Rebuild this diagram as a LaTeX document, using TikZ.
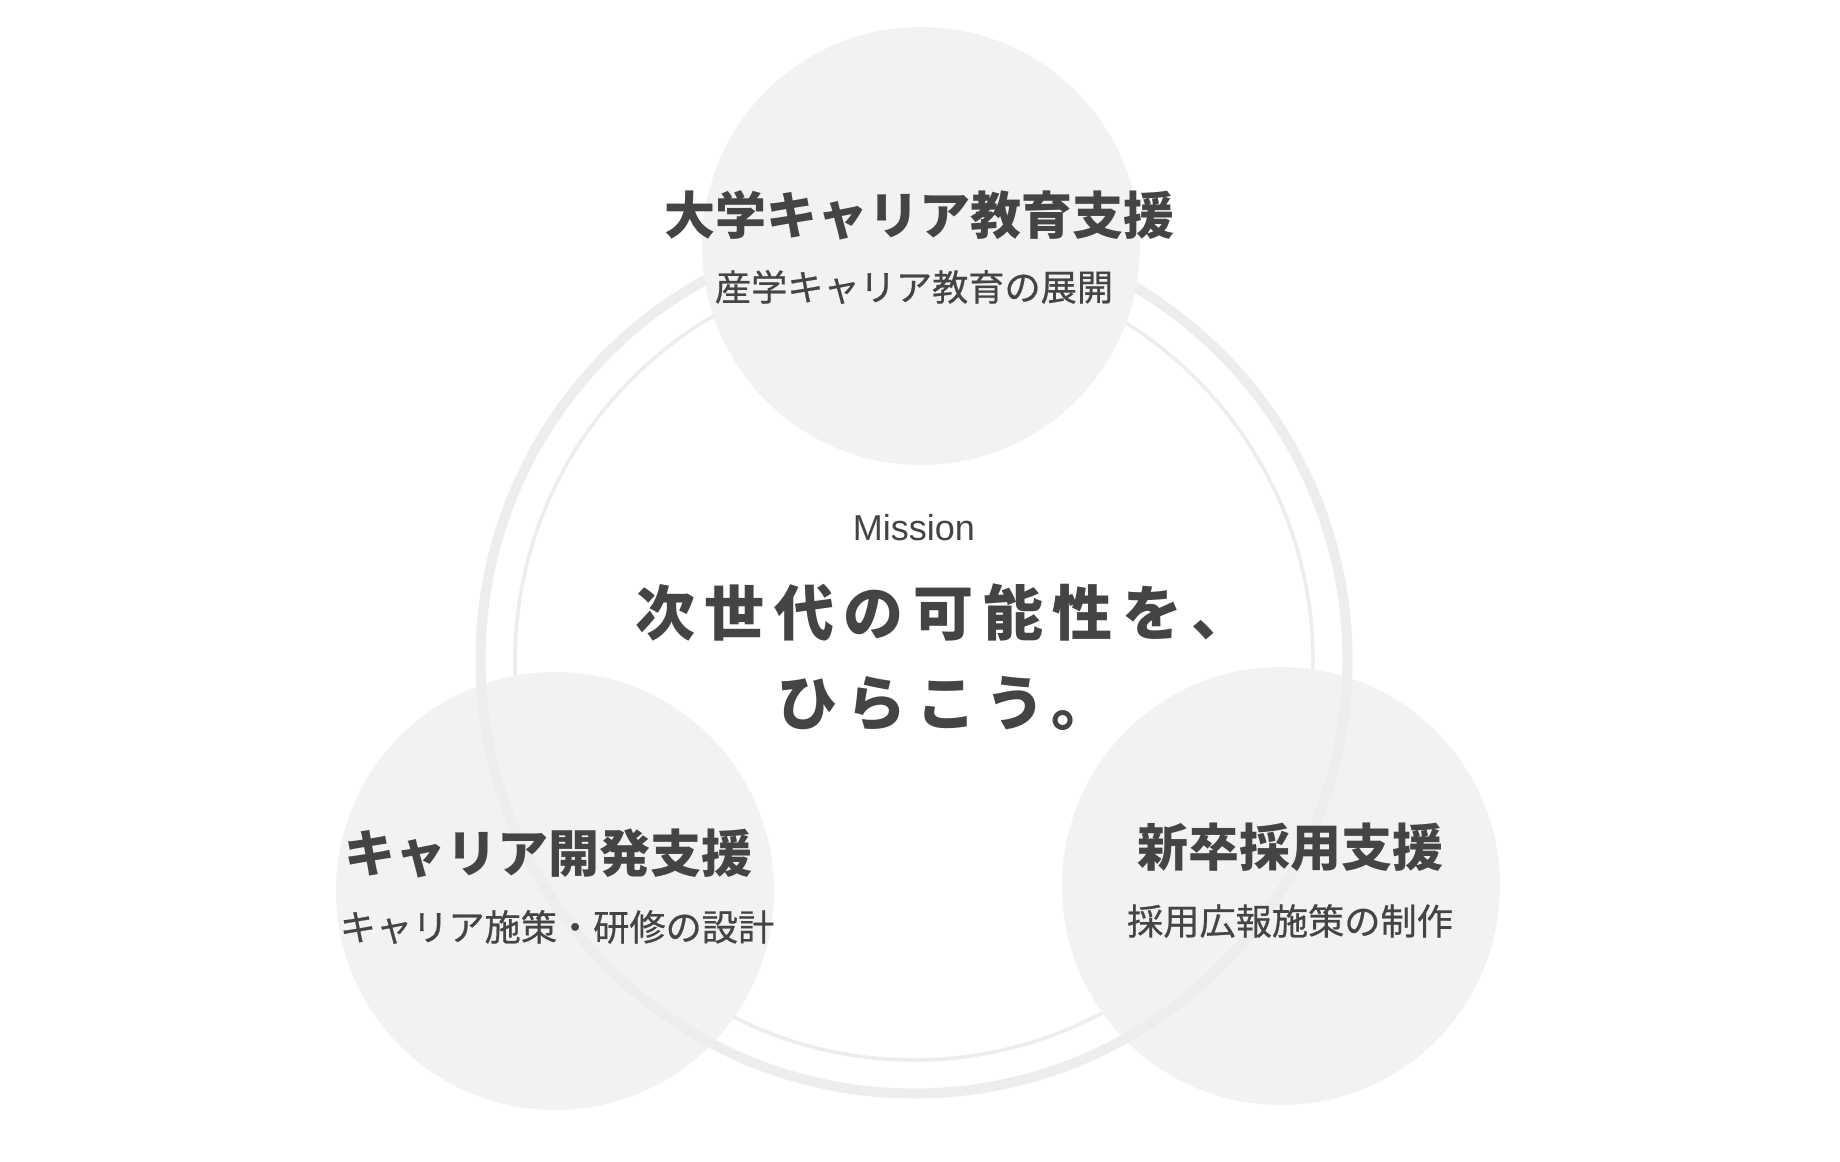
\documentclass[tikz,border=0pt]{standalone}
\usepackage{fontspec}
\setmainfont{Liberation Sans}
\newfontfamily\jp{Noto Sans CJK JP}
\newfontfamily\jpmed{Noto Sans CJK JP}[FakeBold=0.6]
\newfontfamily\jpwide{Noto Sans CJK JP}[LetterSpace=16]
\definecolor{bubblefill}{HTML}{F2F2F2}
\definecolor{ringcol}{HTML}{EDEDED}
\definecolor{inkcol}{HTML}{444444}
\tikzset{
  bubble/.style={circle, fill=bubblefill, minimum size=438pt, inner sep=0pt},
  titletext/.style={text=inkcol, inner sep=0pt, font=\jp\bfseries\fontsize{51}{58}\selectfont},
  subtext/.style={text=inkcol, inner sep=0pt, font=\jpmed\fontsize{36.2}{42}\selectfont},
  missiontext/.style={text=inkcol, inner sep=0pt, anchor=west, font=\jpwide\bfseries\fontsize{60}{70}\selectfont},
  labeltext/.style={text=inkcol, inner sep=0pt, font=\fontsize{36}{40}\selectfont}
}
\begin{document}
\begin{tikzpicture}[x=1pt,y=-1pt]
\path[use as bounding box, fill=white] (0,0) rectangle (1840,1162);
% inner thin ring (behind circles)
\draw[ringcol, line width=3.5pt] (914,661) circle (399);
% bottom circles
\node[bubble] (bl) at (555,891) {};
\node[bubble] (br) at (1281,886) {};
% outer ring
\draw[ringcol, line width=10pt] (914,660) circle (433.5);
% top circle
\node[bubble] (top) at (921,246) {};
% texts
\node[titletext] (toptitle) at (919,215) {大学キャリア教育支援};
\node[subtext] (topsub) at (914,287) {産学キャリア教育の展開};
\node[titletext] (bltitle) at (548,854) {キャリア開発支援};
\node[subtext] (blsub) at (557,927) {キャリア施策・研修の設計};
\node[titletext] (brtitle) at (1290,847) {新卒採用支援};
\node[subtext] (brsub) at (1290,921) {採用広報施策の制作};
\node[labeltext] (mission) at (914,528) {Mission};
\node[missiontext] (line1) at (635,613) {次世代の可能性を、};
\node[missiontext] (line2) at (777,704) {ひらこう。};
\end{tikzpicture}
\end{document}
